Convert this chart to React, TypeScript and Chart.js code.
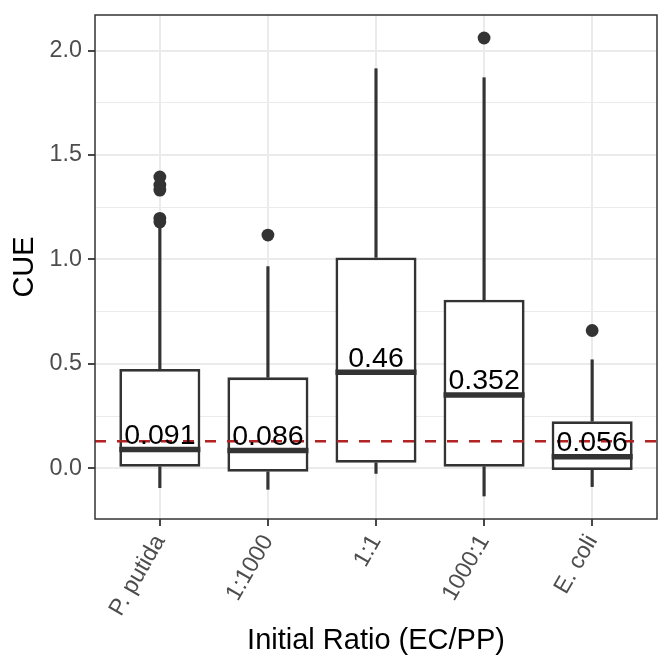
import React, { useEffect, useRef } from 'react';
import { Chart, registerables } from 'chart.js';

Chart.register(...registerables);

// Boxplot statistics
const categories = ['P. putida', '1:1000', '1:1', '1000:1', 'E. coli'];
const lowerWhisker = [-0.092, -0.1, -0.024, -0.132, -0.087];
const lowerHinge = [0.008, -0.016, 0.027, 0.008, -0.008];
const medians = [0.091, 0.086, 0.46, 0.352, 0.056];
const upperHinge = [0.476, 0.436, 1.01, 0.807, 0.226];
const upperWhisker = [1.17, 0.966, 1.913, 1.87, 0.52];
const outliers = [[1.395, 1.356, 1.332, 1.197, 1.18], [1.117], [], [2.06], [0.66]];
const referenceLine = 0.13;
const yMajorTicks = [0, 0.5, 1, 1.5, 2];
const yMinorTicks = [0.25, 0.75, 1.25, 1.75];

const FONT = '"Liberation Sans", Arial, sans-serif';
const DARK = '#333333';
const GRID = '#EBEBEB';

// reference line, median labels and panel border
const boxExtras = {
  id: 'boxExtras',
  afterDatasetsDraw(chart: any) {
    const { ctx, chartArea, scales } = chart;
    const x = scales.x;
    const y = scales.y;
    ctx.save();
    const yr = y.getPixelForValue(referenceLine);
    ctx.beginPath();
    ctx.strokeStyle = '#B22222';
    ctx.lineWidth = 2.5;
    ctx.setLineDash([11, 11]);
    ctx.moveTo(chartArea.left, yr);
    ctx.lineTo(chartArea.right, yr);
    ctx.stroke();
    ctx.setLineDash([]);

    ctx.font = `28.5px ${FONT}`;
    ctx.fillStyle = '#000000';
    ctx.textAlign = 'center';
    ctx.textBaseline = 'alphabetic';
    medians.forEach((m, i) => {
      ctx.fillText(String(m), x.getPixelForValue(i + 1), y.getPixelForValue(m) - 5.5);
    });
    ctx.restore();
  },
  afterDraw(chart: any) {
    const { ctx, chartArea } = chart;
    ctx.save();
    ctx.strokeStyle = DARK;
    ctx.lineWidth = 1.5;
    ctx.strokeRect(chartArea.left, chartArea.top, chartArea.right - chartArea.left, chartArea.bottom - chartArea.top);
    ctx.restore();
  },
};

const halfBox = (c: any) => {
  const xs = c.chart.scales.x;
  return Math.abs(xs.getPixelForValue(1) - xs.getPixelForValue(0)) * 0.375;
};

export default function App() {
  const canvasRef = useRef<HTMLCanvasElement | null>(null);
  const chartRef = useRef<Chart | null>(null);

  useEffect(() => {
    if (!canvasRef.current) return;
    if (chartRef.current) chartRef.current.destroy();

    const outlierPoints = outliers.flatMap((vals, i) => vals.map((v) => ({ x: i + 1, y: v })));

    chartRef.current = new Chart(canvasRef.current, {
      type: 'bar',
      data: {
        datasets: [
          {
            type: 'scatter',
            data: outlierPoints,
            pointRadius: 6.4,
            pointBackgroundColor: DARK,
            pointBorderWidth: 0,
            order: 0,
          },
          {
            type: 'scatter',
            data: medians.map((m, i) => ({ x: i + 1, y: m })),
            pointStyle: 'line',
            pointRadius: halfBox,
            pointBorderWidth: 5.5,
            pointBorderColor: DARK,
            order: 1,
          },
          {
            type: 'bar',
            data: lowerHinge.map((q, i) => ({ x: i + 1, y: [q, upperHinge[i]] })),
            backgroundColor: '#FFFFFF',
            borderColor: DARK,
            borderWidth: 2.8,
            borderSkipped: false,
            grouped: false,
            barPercentage: 0.75,
            categoryPercentage: 1,
            order: 2,
          },
          {
            type: 'bar',
            data: upperHinge.map((q, i) => ({ x: i + 1, y: [q, upperWhisker[i]] })),
            backgroundColor: DARK,
            borderWidth: 0,
            barThickness: 2.5,
            grouped: false,
            order: 3,
          },
          {
            type: 'bar',
            data: lowerWhisker.map((w, i) => ({ x: i + 1, y: [w, lowerHinge[i]] })),
            backgroundColor: DARK,
            borderWidth: 0,
            barThickness: 2.5,
            grouped: false,
            order: 3,
          },
        ] as any,
      },
      options: {
        animation: false,
        responsive: true,
        maintainAspectRatio: false,
        events: [],
        layout: { padding: { top: 15, right: 15, left: 0, bottom: 0 } },
        plugins: {
          legend: { display: false },
          tooltip: { enabled: false },
        },
        scales: {
          x: {
            type: 'linear',
            min: 0.4,
            max: 5.6,
            offset: false,
            afterBuildTicks: (axis: any) => {
              axis.ticks = categories.map((_, i) => ({ value: i + 1 }));
            },
            afterFit: (axis: any) => {
              axis.height = 153;
              axis.paddingLeft = 0;
              axis.paddingRight = 0;
            },
            ticks: {
              autoSkip: false,
              minRotation: 60,
              maxRotation: 60,
              padding: 4,
              color: '#4D4D4D',
              font: { family: FONT, size: 23.3 },
              callback: (_v: any, i: number) => categories[i],
            },
            grid: {
              offset: false,
              color: GRID,
              lineWidth: 2,
              tickColor: DARK,
              tickLength: 7,
              tickWidth: 1.8,
            },
            border: { display: false },
            title: {
              display: true,
              text: 'Initial Ratio (EC/PP)',
              color: '#000000',
              font: { family: FONT, size: 29, lineHeight: 1.2 },
              padding: { top: 0, bottom: 13.6 },
            },
          },
          y: {
            type: 'linear',
            min: -0.242,
            max: 2.17,
            afterBuildTicks: (axis: any) => {
              axis.ticks = [...yMajorTicks, ...yMinorTicks]
                .sort((a, b) => a - b)
                .map((v) => ({ value: v }));
            },
            afterFit: (axis: any) => {
              axis.width = 95;
              axis.paddingTop = 0;
              axis.paddingBottom = 0;
            },
            ticks: {
              padding: 6,
              color: '#4D4D4D',
              font: { family: FONT, size: 23.3 },
              callback: (v: any) => (yMajorTicks.includes(v) ? Number(v).toFixed(1) : ''),
            },
            grid: {
              color: GRID,
              lineWidth: (c: any) => (yMajorTicks.includes(c.tick?.value) ? 2 : 1.1),
              tickColor: (c: any) => (yMajorTicks.includes(c.tick?.value) ? DARK : 'rgba(0,0,0,0)'),
              tickLength: 7,
              tickWidth: 1.8,
            },
            border: { display: false },
            title: {
              display: true,
              text: 'CUE',
              color: '#000000',
              font: { family: FONT, size: 29, lineHeight: 1.2 },
              padding: { top: 7.6, bottom: 0 },
            },
          },
        },
      } as any,
      plugins: [boxExtras],
    });

    return () => {
      if (chartRef.current) {
        chartRef.current.destroy();
        chartRef.current = null;
      }
    };
  }, []);

  return (
    <div style={{ position: 'fixed', left: 0, top: 0, width: 672, height: 672, background: '#FFFFFF' }}>
      <canvas ref={canvasRef}></canvas>
    </div>
  );
}
